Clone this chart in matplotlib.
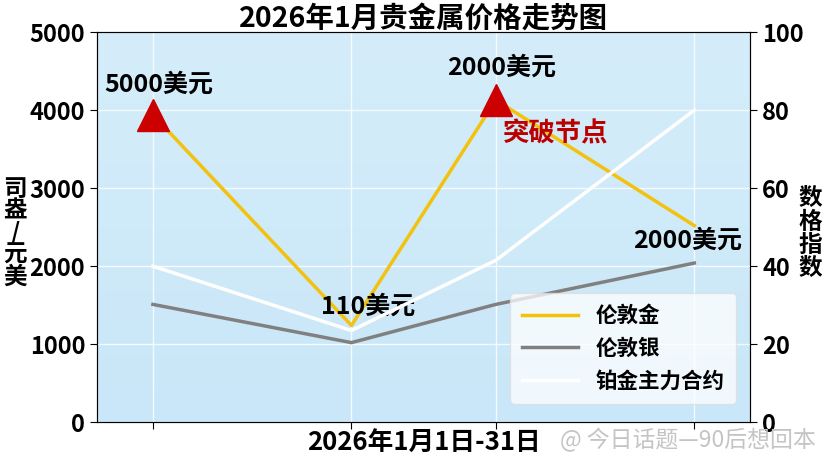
import numpy as np
import matplotlib
matplotlib.use('Agg')
import matplotlib.pyplot as plt
from matplotlib.lines import Line2D

plt.rcParams['font.family'] = ['Noto Sans CJK SC', 'DejaVu Sans']
plt.rcParams['font.weight'] = 'bold'

# data
days = [1, 12, 20, 31]
gold = [3940, 1240, 4130, 2520]        # 美元/盎司
silver = [1510, 1020, 1510, 2040]      # 美元/盎司
platinum = [40, 23.5, 41.5, 80]        # 指数 (right axis)
series_names = ['伦敦金', '伦敦银', '铂金主力合约']
breakout_days = [1, 20]
breakout_vals = [3940, 4130]
notes = [(1.3, 4330, '5000美元'), (12.9, 1480, '110美元'),
         (20.3, 4550, '2000美元'), (30.6, 2330, '2000美元')]

fig = plt.figure(figsize=(8.29, 4.66), dpi=100)
ax = fig.add_axes([0.117, 0.094, 0.788, 0.837])

# gradient background
grad = np.linspace(0, 1, 256).reshape(-1, 1)
cm = matplotlib.colors.LinearSegmentedColormap.from_list('bg', ['#c9e7f8', '#d5edfa'])
ax.imshow(grad, aspect='auto', cmap=cm, origin='lower',
          extent=[0, 1, 0, 1], transform=ax.transAxes, zorder=0)

ax.plot(days, gold, color='#f2c20f', lw=2.5, zorder=3)
ax.plot(days, silver, color='#808080', lw=2.5, zorder=3)
ax.plot(breakout_days, breakout_vals, linestyle='none', marker='^',
        markersize=23, color='#cc0000', zorder=4)

ax.set_xlim(-2.1, 34.1)
ax.set_ylim(0, 5000)
ax.set_yticks(range(0, 5001, 1000))
ax.set_xticks(days)
ax.set_xticklabels([])
ax.grid(True, color='white', lw=1, alpha=0.8)
for gl in ax.get_xgridlines() + ax.get_ygridlines():
    gl.set_zorder(1)
ax.tick_params(axis='y', labelsize=17, length=5)
ax.tick_params(axis='x', length=5)
for s in ax.spines.values():
    s.set_color('#444444')
ax.set_xlabel('2026年1月1日-31日', fontsize=18.5, fontweight='bold', labelpad=-3)
ax.set_title('2026年1月贵金属价格走势图', fontsize=20.5, fontweight='bold', pad=4)

for x, y, t in notes:
    ax.text(x, y, t, fontsize=18, fontweight='bold', ha='center', va='center', zorder=6)
ax.text(23.3, 3700, '突破节点', fontsize=19, fontweight='bold', color='#bb0000',
        ha='center', va='center', zorder=6)

ax2 = ax.twinx()
ax2.plot(days, platinum, color='white', lw=2.5, zorder=3)
ax2.set_ylim(0, 100)
ax2.set_yticks(range(0, 101, 20))
ax2.tick_params(axis='y', labelsize=17, length=5)

# stacked axis labels
fig.text(0.018, 0.50, '司\n盎\n/\n元\n美', fontsize=17, fontweight='bold',
         ha='center', va='center', linespacing=0.9)
fig.text(0.977, 0.50, '数\n格\n指\n数', fontsize=17, fontweight='bold',
         ha='center', va='center', linespacing=0.95)

handles = [Line2D([], [], color='#f2c20f', lw=2.5),
           Line2D([], [], color='#808080', lw=2.5),
           Line2D([], [], color='white', lw=2.5)]
leg = ax2.legend(handles, series_names, loc='lower right', fontsize=15.5,
                 bbox_to_anchor=(0.995, 0.02), handlelength=2.6, borderpad=0.55,
                 labelspacing=0.55, framealpha=0.75, edgecolor='#dddddd')

# watermark
fig.text(0.675, 0.055, '@ 今日话题—90后想回本', fontsize=16.5, color='#c4c4c4',
         fontweight='normal', ha='left', va='center')

fig.savefig('out.png', dpi=100)
